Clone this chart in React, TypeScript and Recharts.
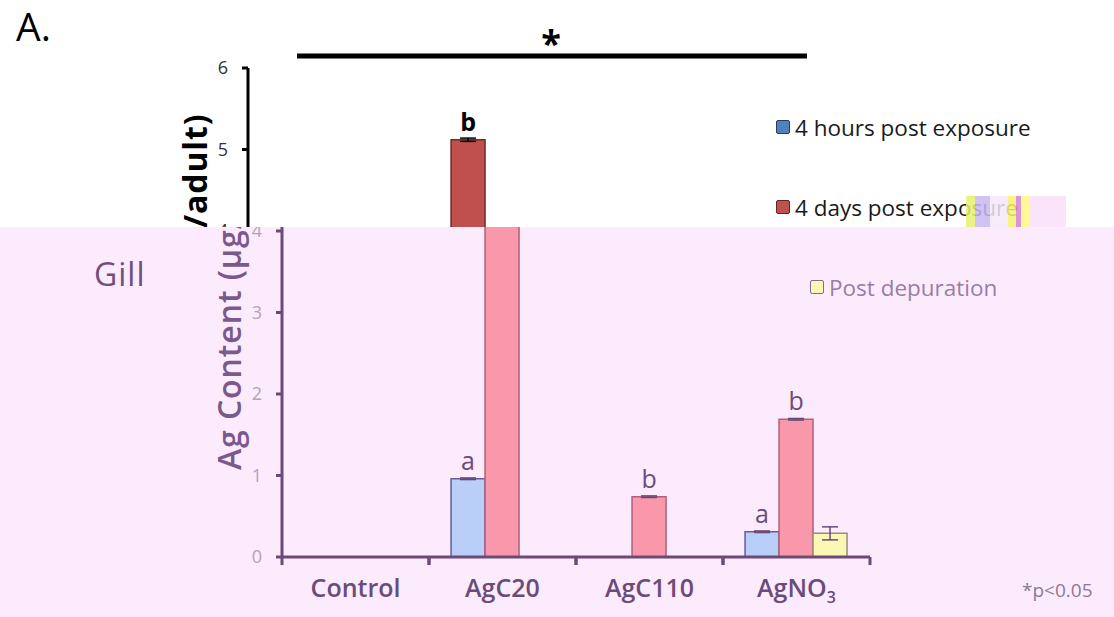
import React from 'react';
import { BarChart, Bar, XAxis, YAxis, ErrorBar, LabelList } from 'recharts';

const categories = ['Control', 'AgC20', 'AgC110', 'AgNO3'];
const hours4 = [null, 0.96, null, 0.31];
const days4 = [null, 5.12, 0.74, 1.69];
const depuration = [null, null, null, 0.29];
const hours4Err = [0, 0.01, 0, 0.01];
const days4Err = [0, 0.02, 0.01, 0.01];
const depurationErr = [0, 0, 0, 0.08];
const hours4Letters = ['', 'a', '', 'a'];
const days4Letters = ['', 'b', 'b', 'b'];
const depurationLetters = ['', '', '', ''];
const yTicks = [0, 1, 2, 3, 4, 5, 6];
const seriesNames = ['4 hours post exposure', '4 days post exposure', 'Post depuration'];

const data = categories.map((cat, i) => ({
  cat,
  h4: hours4[i],
  d4: days4[i],
  dep: depuration[i],
  h4e: hours4Err[i],
  d4e: days4Err[i],
  depe: depurationErr[i],
  h4l: hours4Letters[i],
  d4l: days4Letters[i],
  depl: depurationLetters[i],
}));

type Theme = {
  fills: string[];
  strokes: string[];
  legendBorders: string[];
  axis: string;
  tickText: string;
  labelText: string;
  labelWeight: number | string;
  xText: string;
  xWeight: number | string;
  letter: string;
  letterWeight: number | string;
  legendText: string;
  err: string;
  note: string;
  gill: string;
};

const normal: Theme = {
  fills: ['#4f81bd', '#c0504d', '#ffffcc'],
  strokes: ['#385d8a', '#6e2c2a', '#8c8c5a'],
  legendBorders: ['#243f60', '#5e2624', '#8c8c5a'],
  axis: '#000000',
  tickText: '#333333',
  labelText: '#000000',
  labelWeight: 700,
  xText: '#000000',
  xWeight: 700,
  letter: '#000000',
  letterWeight: 700,
  legendText: '#1a1a1a',
  err: '#000000',
  note: '#444444',
  gill: '#000000',
};

const corrupt: Theme = {
  fills: ['#b9cff8', '#f898aa', '#fbf7b4'],
  strokes: ['#6a5c98', '#b0607c', '#9c8a80'],
  legendBorders: ['#6a5c98', '#b0607c', '#8a6a8a'],
  axis: '#6b4a78',
  tickText: '#b3a2bb',
  labelText: '#7a5a8c',
  labelWeight: 600,
  xText: '#6b4b79',
  xWeight: 600,
  letter: '#6b4b79',
  letterWeight: 500,
  legendText: '#9a7ca8',
  err: '#6b4a78',
  note: '#8a7a96',
  gill: '#6f4f80',
};

const FONT = '"Open Sans", "DejaVu Sans", sans-serif';

const XTick = (props: any) => {
  const { x, y, payload, t, width, visibleTicksCount } = props;
  const v: string = payload.value;
  const isNO3 = v === 'AgNO3';
  const half = width / visibleTicksCount / 2;
  const axisY = y - 6;
  return (
    <g>
      <line x1={x - half} x2={x - half} y1={axisY} y2={axisY + 8} stroke={t.axis} strokeWidth={3} />
      <line x1={x + half} x2={x + half} y1={axisY} y2={axisY + 8} stroke={t.axis} strokeWidth={3} />
      <text
        x={x}
        y={axisY + 40}
        textAnchor="middle"
        fill={t.xText}
        fontSize={25}
        fontWeight={t.xWeight}
        fontFamily={FONT}
      >
        {isNO3 ? (
          <>
            AgNO
            <tspan fontSize={16} dy={6}>3</tspan>
          </>
        ) : (
          v
        )}
      </text>
    </g>
  );
};

function Panel({ t }: { t: Theme }) {
  const keys = ['h4', 'd4', 'dep'];
  return (
    <div style={{ position: 'relative', width: 1114, height: 617, fontFamily: FONT }}>
      <BarChart
        width={1114}
        height={617}
        data={data}
        margin={{ top: 68, right: 278, bottom: 20, left: 188 }}
        barCategoryGap="15%"
        barGap={0}
      >
        <XAxis
          dataKey="cat"
          height={40}
          axisLine={{ stroke: t.axis, strokeWidth: 3 }}
          tickLine={false}
          tickSize={6}
          tickMargin={0}
          interval={0}
          tick={<XTick t={t} />}
        />
        <YAxis
          domain={[0, 6]}
          ticks={yTicks}
          interval={0}
          width={60}
          axisLine={{ stroke: t.axis, strokeWidth: 3 }}
          tickLine={{ stroke: t.axis, strokeWidth: 3 }}
          tickSize={6}
          tickMargin={14}
          tick={{ fill: t.tickText, fontSize: 18, fontFamily: FONT }}
        />
        {keys.map((k, i) => (
          <Bar
            key={k}
            dataKey={k}
            name={seriesNames[i]}
            fill={t.fills[i]}
            stroke={t.strokes[i]}
            strokeWidth={1.5}
            isAnimationActive={false}
          >
            <ErrorBar dataKey={k + 'e'} width={8} stroke={t.err} strokeWidth={1.5} direction="y" />
            <LabelList
              dataKey={k + 'l'}
              position="top"
              offset={9}
              fill={t.letter}
              fontSize={25}
              fontWeight={t.letterWeight}
              fontFamily={FONT}
            />
          </Bar>
        ))}
      </BarChart>
      <svg
        width={1114}
        height={617}
        style={{ position: 'absolute', left: 0, top: 0, pointerEvents: 'none' }}
      >
        <text x={16} y={41} fontSize={39} fill="#000" fontFamily={FONT}>A.</text>
        <line x1={297} x2={807} y1={56} y2={56} stroke="#000" strokeWidth={5} />
        <text x={551} y={56} fontSize={36} fontWeight={700} textAnchor="middle" fill="#000" fontFamily={FONT}>*</text>
        <text
          transform="translate(194,295) rotate(-90)"
          textAnchor="middle"
          dominantBaseline="central"
          fontSize={32}
          letterSpacing={0.9}
          fontWeight={t.labelWeight}
          fill={t.labelText}
          fontFamily={FONT}
        >
          Ag Content (µg/adult)
        </text>
        <text x={60} y={286} fontSize={32} letterSpacing={1} fill={t.gill} fontFamily={FONT}>Gill</text>
        <text x={988} y={597} fontSize={19} fill={t.note} fontFamily={FONT}>*p&lt;0.05</text>
      </svg>
      <div style={{ position: 'absolute', left: 776, top: 111, width: 340 }}>
        {seriesNames.map((n, i) => (
          <div key={n} style={{ height: 80, display: 'flex', alignItems: 'flex-start' }}>
            <div style={{ display: 'flex', alignItems: 'center', height: 32 }}>
              <span
                style={{
                  display: 'inline-block',
                  width: 12,
                  height: 12,
                  background: t.fills[i],
                  border: `1.5px solid ${t.legendBorders[i]}`,
                  borderRadius: 2,
                  marginRight: 5,
                }}
              />
              <span style={{ fontSize: 22.5, color: t.legendText, fontFamily: FONT, whiteSpace: 'nowrap' }}>{n}</span>
            </div>
          </div>
        ))}
      </div>
    </div>
  );
}

export default function App() {
  return (
    <div style={{ position: 'absolute', left: 0, top: 0, width: 1114, height: 617, overflow: 'hidden', background: '#fff' }}>
      <div style={{ position: 'absolute', left: 0, top: 0, width: 1114, height: 227, overflow: 'hidden', background: '#ffffff' }}>
        <Panel t={normal} />
      </div>
      <div style={{ position: 'absolute', left: 0, top: 227, width: 1114, height: 390, overflow: 'hidden', background: '#fcebfc' }}>
        <div style={{ position: 'absolute', left: 34, top: -227 }}>
          <Panel t={corrupt} />
        </div>
      </div>
      <div
        style={{
          position: 'absolute',
          left: 966,
          top: 196,
          width: 100,
          height: 31,
          background:
            'linear-gradient(90deg, #e8f070 0 9%, #c8b8f0 9% 24%, #f4e8f8 24% 42%, #f8f070 42% 50%, #d880d0 50% 55%, #fff880 55% 64%, #f8e0f8 64% 100%)',
          opacity: 0.85,
        }}
      />
    </div>
  );
}
